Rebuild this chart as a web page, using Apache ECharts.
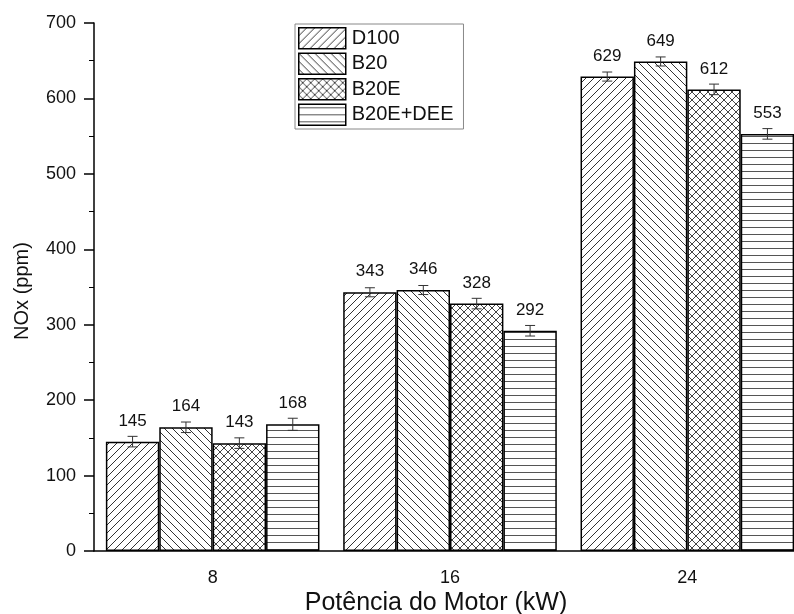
<!DOCTYPE html>
<html>
<head>
<meta charset="utf-8">
<script src="https://cdn.jsdelivr.net/npm/echarts@6/dist/echarts.min.js"></script>
<style>html,body{margin:0;padding:0;background:#fff;overflow:hidden;width:794px;height:614px}#c{width:820px;height:614px}</style>
</head>
<body>
<div id="c"></div>
<script>
const categories = ['8', '16', '24'];
const seriesNames = ['D100', 'B20', 'B20E', 'B20E+DEE'];
const d100 = [145, 343, 629];
const b20 = [164, 346, 649];
const b20e = [143, 328, 612];
const b20eDee = [168, 292, 553];
const errD100 = [7, 6, 6];
const errB20 = [7, 6, 6];
const errB20e = [7, 7, 7];
const errB20eDee = [8, 7, 7];
const yTicks = [0, 100, 200, 300, 400, 500, 600, 700];

const values = [d100, b20, b20e, b20eDee];
const errors = [errD100, errB20, errB20e, errB20eDee];
const FONT = 'Arial, "Liberation Sans", sans-serif';

function makePattern(type) {
  const s = type === 'h' ? 7 : 8;
  const c = document.createElement('canvas');
  c.width = s; c.height = s;
  const g = c.getContext('2d');
  g.fillStyle = '#fff';
  g.fillRect(0, 0, s, s);
  g.lineWidth = 1;
  function fwd() {
    g.beginPath();
    g.moveTo(-1, s + 1); g.lineTo(s + 1, -1);
    g.moveTo(-1, 1); g.lineTo(1, -1);
    g.moveTo(s - 1, s + 1); g.lineTo(s + 1, s - 1);
    g.stroke();
  }
  function back() {
    g.beginPath();
    g.moveTo(-1, -1); g.lineTo(s + 1, s + 1);
    g.moveTo(s - 1, -1); g.lineTo(s + 1, 1);
    g.moveTo(-1, s - 1); g.lineTo(1, s + 1);
    g.stroke();
  }
  if (type === 'f') { g.strokeStyle = '#333'; fwd(); }
  else if (type === 'b') { g.strokeStyle = '#333'; back(); }
  else if (type === 'x') { g.strokeStyle = '#444'; fwd(); back(); }
  else if (type === 'h') {
    g.strokeStyle = '#555';
    g.beginPath(); g.moveTo(0, 3.5); g.lineTo(s, 3.5); g.stroke();
  }
  return { image: c, repeat: 'repeat' };
}
const patterns = [makePattern('f'), makePattern('b'), makePattern('x'), makePattern('h')];

const series = [];
seriesNames.forEach((name, k) => {
  series.push({
    name: name,
    type: 'bar',
    data: values[k],
    barGap: '0%',
    barCategoryGap: '10%',
    itemStyle: { color: patterns[k], borderColor: '#000', borderWidth: 1.5 },
    label: {
      show: true, position: 'top', distance: 12,
      fontFamily: FONT, fontSize: 17, color: '#111'
    },
    z: 2
  });
});
seriesNames.forEach((name, k) => {
  series.push({
    name: 'err_' + name,
    type: 'custom',
    z: 10,
    silent: true,
    data: values[k].map((v, i) => [i, v, errors[k][i]]),
    encode: { x: 0, y: 1 },
    renderItem: function (params, api) {
      const idx = api.value(0), v = api.value(1), e = api.value(2);
      const c = api.coord([idx, v]);
      const w = api.size([1, 0])[0];
      const bw = w * 0.9 / 4;
      const x = c[0] + (k - 1.5) * bw;
      const top = api.coord([idx, v + e])[1];
      const bot = api.coord([idx, v - e])[1];
      const st = { stroke: '#333', lineWidth: 1 };
      return {
        type: 'group',
        children: [
          { type: 'line', shape: { x1: x, y1: top, x2: x, y2: bot }, style: st },
          { type: 'line', shape: { x1: x - 5, y1: top, x2: x + 5, y2: top }, style: st },
          { type: 'line', shape: { x1: x - 5, y1: bot, x2: x + 5, y2: bot }, style: st }
        ]
      };
    }
  });
});

const chart = echarts.init(document.getElementById('c'), null, { renderer: 'canvas', width: 820, height: 614 });
chart.setOption({
  animation: false,
  backgroundColor: '#fff',
  grid: { left: 94, top: 23, height: 528, width: 712, containLabel: false },
  legend: {
    data: seriesNames,
    orient: 'vertical',
    left: 295, top: 24,
    itemWidth: 47, itemHeight: 21, itemGap: 3,
    padding: [3, 10, 3, 3],
    borderColor: '#888', borderWidth: 1,
    icon: 'rect',
    itemStyle: { borderColor: '#000', borderWidth: 1.5 },
    textStyle: { fontFamily: FONT, fontSize: 20, color: '#111', padding: [0, 0, 0, 1] }
  },
  xAxis: {
    type: 'category',
    data: categories,
    axisLine: { lineStyle: { color: '#000', width: 1.5 } },
    axisTick: { alignWithLabel: true, length: 10, lineStyle: { color: '#000', width: 1.5 } },
    axisLabel: { fontFamily: FONT, fontSize: 18, color: '#111', margin: 18 }
  },
  yAxis: {
    type: 'value',
    min: yTicks[0], max: yTicks[yTicks.length - 1], interval: 100,
    axisLine: { show: true, lineStyle: { color: '#000', width: 1.5 } },
    axisTick: { show: true, length: 10, lineStyle: { color: '#000', width: 1.5 } },
    minorTick: { show: true, splitNumber: 2, length: 5, lineStyle: { color: '#000', width: 1 } },
    splitLine: { show: false },
    axisLabel: { fontFamily: FONT, fontSize: 18, color: '#111', margin: 18 }
  },
  graphic: [
    {
      type: 'text', x: 22, y: 291, rotation: Math.PI / 2,
      style: { text: 'NOx (ppm)', fontFamily: FONT, fontSize: 20, fill: '#111', align: 'center', verticalAlign: 'middle' }
    },
    {
      type: 'text', x: 436, y: 603,
      style: { text: 'Potência do Motor (kW)', fontFamily: FONT, fontSize: 25, fill: '#111', align: 'center', verticalAlign: 'middle' }
    }
  ],
  series: series
});
</script>
</body>
</html>
